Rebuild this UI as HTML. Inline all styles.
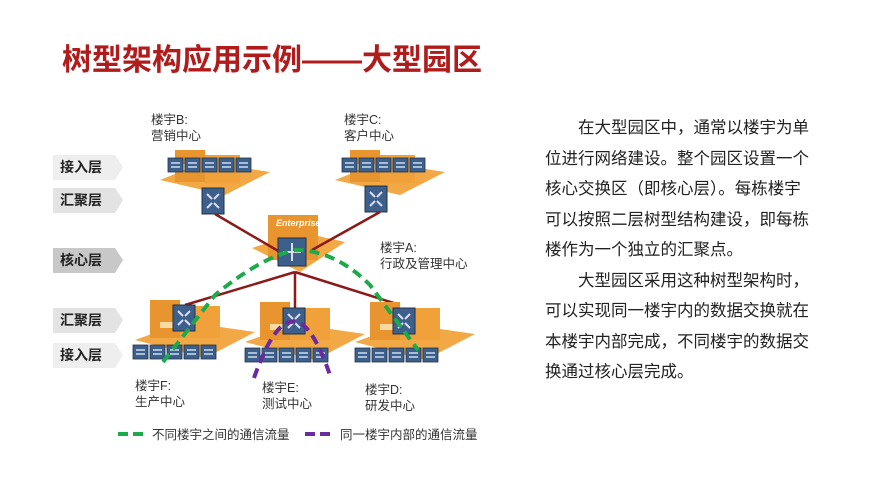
<!DOCTYPE html>
<html><head><meta charset="utf-8"><style>
body{margin:0;width:889px;height:500px;background:#fff;overflow:hidden;font-family:"Liberation Sans","Noto Sans CJK SC",sans-serif}
.t{position:absolute;left:62px;top:35px;font-size:30px;font-weight:bold;color:#b01c1c;font-family:"Liberation Sans","Noto Sans CJK SC",sans-serif}
.r{position:absolute;left:545px;top:113px;width:266px;font-size:16.5px;line-height:30.5px;color:#222}
.r p{margin:0;text-indent:2em}
</style></head><body>
<div class="t">树型架构应用示例——大型园区</div>
<div class="r"><p>在大型园区中，通常以楼宇为单位进行网络建设。整个园区设置一个核心交换区（即核心层）。每栋楼宇可以按照二层树型结构建设，即每栋楼作为一个独立的汇聚点。</p><p>大型园区采用这种树型架构时，可以实现同一楼宇内的数据交换就在本楼宇内部完成，不同楼宇的数据交换通过核心层完成。</p></div>
<svg width="889" height="500" style="position:absolute;left:0;top:0" font-family="Liberation Sans, Noto Sans CJK SC, sans-serif">
<defs>
<g id="sw"><rect width="15" height="14" fill="#3d5f8c" stroke="#234" stroke-width="0.8"/><path d="M3 5h9M3 9h9" stroke="#cde" stroke-width="1.5"/></g>
<g id="agg"><rect width="22" height="26" fill="#3d5f8c" stroke="#234"/><path d="M5 6l5 5M17 6l-5 5M5 20l5-5M17 20l-5-5" stroke="#dde" stroke-width="2"/></g>
<g id="bt"><polygon points="0,30 45,12 110,22 65,45" fill="#f2a845"/><rect x="15" y="0" width="30" height="32" fill="#e89530"/><rect x="45" y="5" width="35" height="28" fill="#f0a13a"/><rect x="20" y="14" width="20" height="6" fill="#fbd9a0"/></g>
<g id="bb"><polygon points="0,40 50,22 120,32 70,58" fill="#f2a845"/><rect x="15" y="0" width="30" height="38" fill="#e89530"/><rect x="45" y="6" width="40" height="32" fill="#f0a13a"/><rect x="25" y="22" width="18" height="6" fill="#fbd9a0"/></g>
</defs>
<g font-size="14" font-weight="bold" fill="#222">
<polygon points="53,155 115,155 123,167 115,180 53,180" fill="#eee"/><text x="60" y="172">接入层</text>
<polygon points="53,188 115,188 123,200 115,213 53,213" fill="#e3e3e3"/><text x="60" y="205">汇聚层</text>
<polygon points="53,248 115,248 123,260 115,273 53,273" fill="#c8c8c8"/><text x="60" y="265">核心层</text>
<polygon points="53,308 115,308 123,320 115,333 53,333" fill="#e3e3e3"/><text x="60" y="325">汇聚层</text>
<polygon points="53,343 115,343 123,355 115,368 53,368" fill="#eee"/><text x="60" y="360">接入层</text>
</g>
<use href="#bt" x="160" y="150"/><use href="#bt" x="335" y="150"/>
<g><use href="#sw" x="168" y="158"/><use href="#sw" x="185" y="158"/><use href="#sw" x="202" y="158"/><use href="#sw" x="219" y="158"/><use href="#sw" x="236" y="158"/></g>
<g><use href="#sw" x="342" y="158"/><use href="#sw" x="359" y="158"/><use href="#sw" x="376" y="158"/><use href="#sw" x="393" y="158"/><use href="#sw" x="410" y="158"/></g>
<use href="#agg" x="202" y="188"/><use href="#agg" x="365" y="186"/>
<polygon points="252,248 300,232 345,242 300,272" fill="#f2a845"/><rect x="268" y="215" width="50" height="45" fill="#e89530"/><text x="276" y="226" font-size="9" fill="#fff" font-style="italic" font-weight="bold">Enterprise</text>
<path d="M215 214L285 255M380 212L312 250M295 272L185 305M295 272L295 308M295 272L400 305" stroke="#8b1a1a" stroke-width="2.5"/>
<rect x="278" y="238" width="28" height="28" fill="#3d5f8c" stroke="#234"/><path d="M283 252h18M292 243v18" stroke="#dde" stroke-width="2"/>
<use href="#bb" x="135" y="300"/><use href="#bb" x="245" y="302"/><use href="#bb" x="355" y="302"/>
<use href="#agg" x="173" y="305"/><use href="#agg" x="283" y="308"/><use href="#agg" x="393" y="308"/>
<g><use href="#sw" x="133" y="345"/><use href="#sw" x="150" y="345"/><use href="#sw" x="167" y="345"/><use href="#sw" x="184" y="345"/><use href="#sw" x="201" y="345"/></g>
<g><use href="#sw" x="245" y="348"/><use href="#sw" x="262" y="348"/><use href="#sw" x="279" y="348"/><use href="#sw" x="296" y="348"/><use href="#sw" x="313" y="348"/></g>
<g><use href="#sw" x="355" y="348"/><use href="#sw" x="372" y="348"/><use href="#sw" x="389" y="348"/><use href="#sw" x="406" y="348"/><use href="#sw" x="423" y="348"/></g>
<path d="M163 362L215 295Q260 258 295 250Q335 250 370 285L418 350" fill="none" stroke="#1bab4b" stroke-width="4" stroke-dasharray="10,6"/>
<path d="M254 378Q275 318 295 322Q312 322 331 378" fill="none" stroke="#6a2aa0" stroke-width="4" stroke-dasharray="10,6"/>
<g font-size="12.5" fill="#333">
<text x="151" y="124">楼宇B:</text><text x="151" y="140">营销中心</text>
<text x="344" y="124">楼宇C:</text><text x="344" y="140">客户中心</text>
<text x="380" y="252">楼宇A:</text><text x="380" y="268">行政及管理中心</text>
<text x="135" y="390">楼宇F:</text><text x="135" y="406">生产中心</text>
<text x="262" y="392">楼宇E:</text><text x="262" y="408">测试中心</text>
<text x="365" y="394">楼宇D:</text><text x="365" y="410">研发中心</text>
<path d="M118 434h30" stroke="#1bab4b" stroke-width="4" stroke-dasharray="10,5"/><text x="152" y="439">不同楼宇之间的通信流量</text>
<path d="M305 434h30" stroke="#6a2aa0" stroke-width="4" stroke-dasharray="10,5"/><text x="340" y="439">同一楼宇内部的通信流量</text>
</g>
</svg>
</body></html>
